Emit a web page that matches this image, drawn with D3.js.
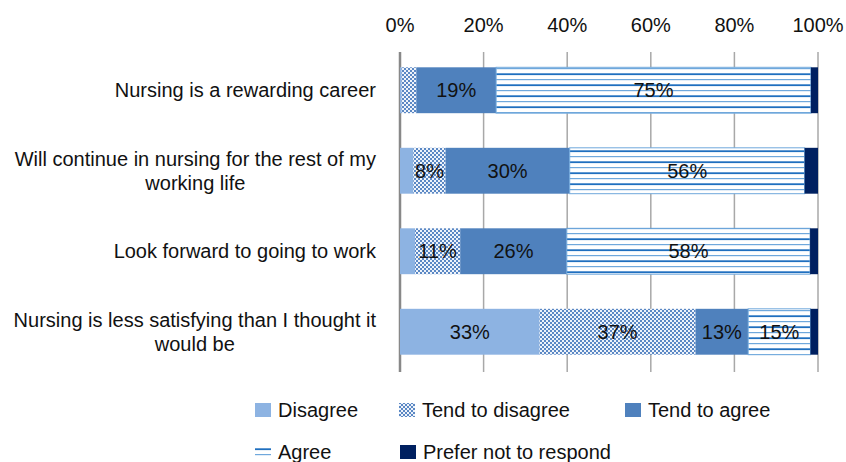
<!DOCTYPE html>
<html>
<head>
<meta charset="utf-8">
<script src="https://cdn.jsdelivr.net/npm/d3@7"></script>
<style>
  body { margin: 0; background: #fff; }
  svg text { font-family: "Liberation Sans", Arial, Helvetica, sans-serif; fill: #111; }
</style>
</head>
<body>
<div class="chart"></div>
<script>
const categories = [
  "Nursing is a rewarding career",
  "Will continue in nursing for the rest of my|working life",
  "Look forward to going to work",
  "Nursing is less satisfying than I thought it|would be"
];
const seriesNames = ["Disagree", "Tend to disagree", "Tend to agree", "Agree", "Prefer not to respond"];
const disagree     = [0.4, 3.2, 3.6, 33.4];
const tendDisagree = [3.5, 7.7, 10.8, 37.3];
const tendAgree    = [19.1, 29.7, 25.5, 12.6];
const agree        = [75.3, 56.2, 58.2, 14.9];
const preferNot    = [1.7, 3.2, 1.9, 1.8];
const tickValues = [0, 20, 40, 60, 80, 100];

const w = 846, h = 462;
const fs = 20;
const svg = d3.select(".chart").append("svg").attr("width", w).attr("height", h);

// patterns
const defs = svg.append("defs");
const check = defs.append("pattern").attr("id", "check")
  .attr("patternUnits", "userSpaceOnUse").attr("width", 4).attr("height", 4);
check.append("rect").attr("width", 4).attr("height", 4).attr("fill", "#eef3fa");
check.append("rect").attr("width", 2).attr("height", 2).attr("fill", "#5b88c4");
check.append("rect").attr("x", 2).attr("y", 2).attr("width", 2).attr("height", 2).attr("fill", "#5b88c4");

const lines = defs.append("pattern").attr("id", "lines")
  .attr("patternUnits", "userSpaceOnUse").attr("width", 8).attr("height", 11).attr("y", 68);
lines.append("rect").attr("width", 8).attr("height", 11).attr("fill", "#fff");
lines.append("rect").attr("y", 0).attr("width", 8).attr("height", 1.2).attr("fill", "#6fa8dc");
lines.append("rect").attr("y", 5.3).attr("width", 8).attr("height", 1.8).attr("fill", "#1f6fbf");

const fills = ["#8db3e2", "url(#check)", "#4f81bd", "url(#lines)", "#002060"];

const x = d3.scaleLinear().domain([0, 100]).range([400, 818]);
const y = d3.scaleBand().domain(categories).range([50, 372]).paddingInner(0.43).paddingOuter(0.215);

// gridlines
svg.append("g").selectAll("line").data(tickValues).enter().append("line")
  .attr("x1", d => x(d)).attr("x2", d => x(d))
  .attr("y1", 52).attr("y2", 372)
  .attr("stroke", d => d === 0 ? "#888" : "#a8a8a8")
  .attr("stroke-width", d => d === 0 ? 2.5 : 1.5);

// tick labels
svg.append("g").selectAll("text").data(tickValues).enter().append("text")
  .attr("x", d => x(d)).attr("y", 25).attr("dy", "0.35em")
  .attr("text-anchor", "middle").attr("font-size", fs)
  .text(d => d + "%");

const rows = categories.map((c, i) => ({
  cat: c,
  Disagree: disagree[i], "Tend to disagree": tendDisagree[i], "Tend to agree": tendAgree[i],
  Agree: agree[i], "Prefer not to respond": preferNot[i]
}));
const stacked = d3.stack().keys(seriesNames)(rows);

const layer = svg.append("g").selectAll("g").data(stacked).enter().append("g")
  .attr("fill", (d, i) => fills[i]);

layer.selectAll("rect").data(d => d).enter().append("rect")
  .attr("x", d => x(d[0]))
  .attr("width", d => x(d[1]) - x(d[0]))
  .attr("y", d => y(d.data.cat))
  .attr("height", y.bandwidth())
  .attr("stroke", function() { return d3.select(this.parentNode).datum().key === "Agree" ? "#6fa8dc" : "none"; })
  .attr("stroke-width", 1);

// value labels
layer.selectAll("text").data(d => d.filter(v => v[1] - v[0] >= 5)).enter().append("text")
  .attr("x", d => (x(d[0]) + x(d[1])) / 2)
  .attr("y", d => y(d.data.cat) + y.bandwidth() / 2)
  .attr("dy", "0.35em").attr("text-anchor", "middle").attr("font-size", fs)
  .text(d => Math.round(d[1] - d[0]) + "%");

// category labels (block right-aligned, lines centered)
categories.forEach(c => {
  const parts = c.split("|");
  const cy = y(c) + y.bandwidth() / 2;
  const t = svg.append("text").attr("font-size", fs).attr("text-anchor", "middle");
  const tmp = svg.append("text").attr("font-size", fs).text(parts[0]);
  const wid = tmp.node().getComputedTextLength();
  tmp.remove();
  const cx = 376 - wid / 2;
  parts.forEach((p, k) => {
    t.append("tspan").attr("x", cx)
      .attr("y", cy + (k - (parts.length - 1) / 2) * 24)
      .attr("dy", "0.35em").text(p);
  });
});

// legend
const legendPos = [[255, 410], [399, 410], [625, 410], [255, 452], [400, 452]];
const legend = svg.append("g").selectAll("g").data(seriesNames).enter().append("g")
  .attr("transform", (d, i) => `translate(${legendPos[i][0]},${legendPos[i][1]})`);
legend.append("rect")
  .attr("x", 0).attr("y", (d, i) => i === 3 ? -4 : -7)
  .attr("width", 16).attr("height", (d, i) => i === 3 ? 9 : 14)
  .attr("fill", (d, i) => fills[i]);
legend.append("text").attr("x", 23).attr("dy", "0.35em").attr("font-size", fs)
  .text(d => d);
</script>
</body>
</html>
